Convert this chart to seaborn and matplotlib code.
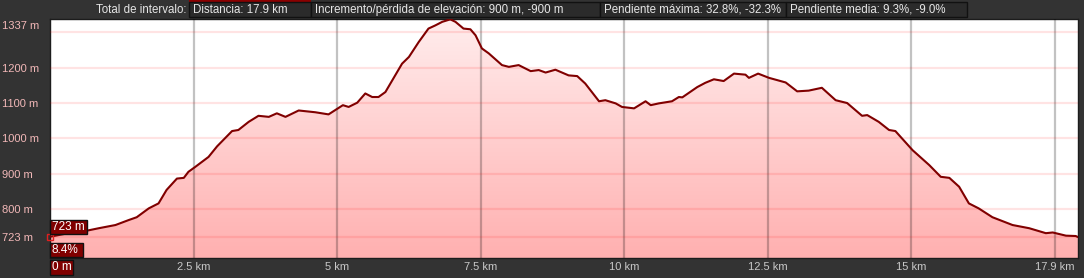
import numpy as np
import matplotlib
matplotlib.use("Agg")
import matplotlib.pyplot as plt
import seaborn as sns
from matplotlib.patches import Rectangle
from matplotlib.colors import LinearSegmentedColormap

# ---------------- data ----------------
distance_km = [0.00, 0.32, 0.61, 0.85, 1.14, 1.37, 1.51, 1.72, 1.89, 2.03, 2.21, 2.33, 2.41, 2.53,
               2.76, 2.91, 3.17, 3.28, 3.46, 3.63, 3.81, 3.95, 4.10, 4.33, 4.62, 4.85, 5.10, 5.20,
               5.35, 5.49, 5.61, 5.72, 5.84, 6.13, 6.25, 6.42, 6.59, 6.71, 6.83, 6.97, 7.06, 7.20,
               7.32, 7.41, 7.52, 7.64, 7.87, 7.99, 8.16, 8.37, 8.51, 8.63, 8.80, 9.03, 9.18, 9.32,
               9.56, 9.67, 9.85, 9.96, 10.17, 10.37, 10.46, 10.60, 10.83, 10.95, 11.01, 11.27, 11.41,
               11.56, 11.73, 11.91, 12.11, 12.17, 12.33, 12.52, 12.81, 13.01, 13.21, 13.44, 13.68,
               13.88, 14.14, 14.23, 14.43, 14.61, 14.72, 15.02, 15.31, 15.51, 15.66, 15.83, 16.00,
               16.17, 16.41, 16.76, 17.05, 17.34, 17.46, 17.69, 17.86, 17.90]
elevation_m = [723, 733, 739, 747, 756, 770, 778, 803, 817, 855, 887, 889, 906, 920,
               948, 978, 1021, 1024, 1047, 1064, 1061, 1071, 1061, 1079, 1074, 1068, 1094, 1089,
               1101, 1127, 1117, 1117, 1131, 1211, 1230, 1272, 1310, 1319, 1329, 1336, 1329, 1310,
               1308, 1291, 1254, 1240, 1207, 1202, 1207, 1190, 1193, 1186, 1194, 1178, 1176, 1155,
               1105, 1108, 1099, 1089, 1085, 1105, 1094, 1099, 1105, 1117, 1116, 1145, 1157,
               1167, 1162, 1183, 1180, 1171, 1183, 1171, 1158, 1133, 1135, 1143, 1108,
               1100, 1064, 1066, 1047, 1024, 1021, 967, 925, 892, 889, 864, 817,
               803, 778, 756, 747, 733, 735, 726, 725, 722]

x_ticks = [2.5, 5, 7.5, 10, 12.5, 15, 17.5]
x_tick_labels = ["2.5 km", "5 km", "7.5 km", "10 km", "12.5 km", "15 km", "17.9 km"]
y_ticks = [723, 800, 900, 1000, 1100, 1200]
y_tick_labels = ["723 m", "800 m", "900 m", "1000 m", "1100 m", "1200 m"]
top_tick = 1300
top_tick_label = "1337 m"

header_title = "Total de intervalo:"
header_items = ["Distancia: 17.9 km",
                "Incremento/pérdida de elevación: 900 m, -900 m",
                "Pendiente máxima: 32.8%, -32.3%",
                "Pendiente media: 9.3%, -9.0%"]
cursor_elev_label = "723 m"
cursor_slope_label = "8.4%"
cursor_dist_label = "0 m"

# ---------------- layout / style ----------------
W, H = 1084, 278
BG = "#333333"
Y_MIN, Y_MAX = 663, 1337
X_MAX = 17.9

sns.set_style("white")
plt.rcParams['font.family'] = ['Liberation Sans', 'DejaVu Sans']

fig = plt.figure(figsize=(W / 100, H / 100), dpi=100, facecolor=BG)


def fx(px):
    return px / W


def fy(py):
    return 1 - py / H


ax = fig.add_axes([fx(50), fy(258), fx(1078) - fx(50), (258 - 19) / H])
ax.set_facecolor("white")

# gradient fill under the profile
grad = np.linspace(0, 1, 256).reshape(-1, 1)
cmap = LinearSegmentedColormap.from_list("g", ["#ffeded", "#ffb0b0"])
im = ax.imshow(grad, extent=[0, X_MAX, Y_MIN, Y_MAX], origin="upper", aspect="auto",
               cmap=cmap, zorder=1, interpolation="bilinear")
poly = ax.fill_between(distance_km, elevation_m, Y_MIN, facecolor="none", linewidth=0)
im.set_clip_path(poly.get_paths()[0], ax.transData)

sns.lineplot(x=distance_km, y=elevation_m, ax=ax, color="#800000", linewidth=1.5,
             zorder=3, sort=False)
ax.plot(distance_km[0], elevation_m[0], marker="s", ms=5, mfc="none", mec="#e02020",
        mew=1, clip_on=False, zorder=5)

ax.set_xlim(0, X_MAX)
ax.set_ylim(Y_MIN, Y_MAX)

ax.set_axisbelow(False)
ax.set_xticks(x_ticks, x_tick_labels)
ax.set_yticks(y_ticks + [top_tick], y_tick_labels + [""])
ax.xaxis.grid(True, color="black", alpha=0.24, linewidth=1.6)
ax.yaxis.grid(True, color="red", alpha=0.11, linewidth=1.6)
ax.tick_params(axis="x", length=0, pad=3, labelcolor="#c8c8c8", labelsize=8)
ax.tick_params(axis="y", length=0, pad=48 * 0.72, labelcolor="#f2b8b8", labelsize=8)
for lab in ax.get_yticklabels():
    lab.set_horizontalalignment("left")
ax.annotate(top_tick_label, xy=(0, top_tick), xycoords=("axes fraction", "data"),
            xytext=(-48, 6), textcoords="offset pixels", ha="left", va="center",
            color="#f2b8b8", fontsize=8)

for s in ax.spines.values():
    s.set_color("#1c1c1c")
    s.set_linewidth(1)

# ---------------- header ----------------
fig.patches.append(Rectangle((fx(189), fy(2)), fx(311) - fx(189), 2 / H,
                             transform=fig.transFigure, facecolor="#8b0000",
                             edgecolor="none"))
fig.text(fx(186), fy(10), header_title, ha="right", va="center", color="#e6e6e6",
         fontsize=8.3)
box_edges = [189, 311, 600, 786, 967]
for i, txt in enumerate(header_items):
    x0, x1 = box_edges[i], box_edges[i + 1]
    fig.patches.append(Rectangle((fx(x0), fy(17)), fx(x1) - fx(x0), 14.5 / H,
                                 transform=fig.transFigure, facecolor="#2b2b2b",
                                 edgecolor="#111111", linewidth=1))
    fig.text(fx(x0 + 4), fy(10), txt, ha="left", va="center", color="#e6e6e6",
             fontsize=8.3)

# ---------------- cursor boxes ----------------
for (x0, y0, x1, y1, txt) in [(50, 220, 87, 234, cursor_elev_label),
                              (50, 243, 83, 257, cursor_slope_label),
                              (50, 260, 73, 275, cursor_dist_label)]:
    fig.patches.append(Rectangle((fx(x0), fy(y1)), fx(x1) - fx(x0), (y1 - y0) / H,
                                 transform=fig.transFigure, facecolor="#800000",
                                 edgecolor="#111111", linewidth=1, zorder=10))
    fig.text(fx(x0 + 2), fy((y0 + y1) / 2), txt, ha="left", va="center", color="white",
             fontsize=8.5, zorder=11)

fig.savefig("out.png", dpi=100, facecolor=BG)
